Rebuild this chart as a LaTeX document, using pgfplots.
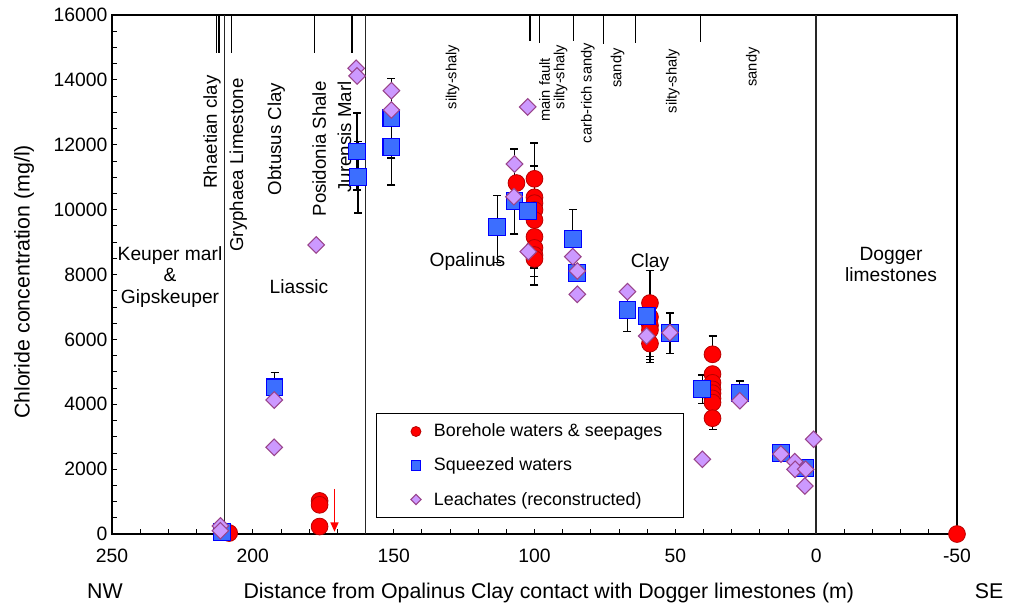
\documentclass[border=0pt]{standalone}
\usepackage{pgfplots}
\pgfplotsset{compat=1.18}
\usepackage{fontspec}
\setmainfont{Liberation Sans}
\usetikzlibrary{arrows.meta}

\definecolor{bhfill}{RGB}{255,0,0}
\definecolor{bhedge}{RGB}{185,0,0}
\definecolor{sqfill}{RGB}{60,110,255}
\definecolor{sqedge}{RGB}{0,0,255}
\definecolor{lcfill}{RGB}{204,153,255}
\definecolor{lcedge}{RGB}{153,68,140}

\newcommand{\flab}{\fontsize{16}{19}\selectfont}
\newcommand{\freg}{\fontsize{14.4}{17}\selectfont}
\newcommand{\frot}{\fontsize{14}{17}\selectfont}
\newcommand{\fsm}{\fontsize{11}{13}\selectfont}

\begin{document}
\begin{tikzpicture}
\useasboundingbox (-84pt,-55.5pt) rectangle (673.5pt,400.5pt);
\begin{axis}[
  at={(0,0)}, anchor=south west,
  width=633.75pt, height=389.25pt, scale only axis,
  x dir=reverse, xmin=-50, xmax=250, ymin=0, ymax=16000,
  xtick={-50,0,...,250}, minor x tick num=4,
  ytick={0,2000,...,16000}, minor y tick num=3,
  scaled y ticks=false, scaled x ticks=false,
  tick align=inside, xtick pos=bottom, ytick pos=left,
  major tick length=4pt, minor tick length=4pt,
  tick style={black, line width=0.6pt},
  axis line style={black, line width=1pt},
  /pgf/number format/assume math mode=true,
  /pgf/number format/set thousands separator={},
  ticklabel style={font=\fontsize{14.5}{16}\selectfont},
  xticklabel style={yshift=-8pt},
  clip=false,
  unbounded coords=jump,
  legend style={at={(0.3124,0.0302)}, anchor=south west, draw=black, line width=1pt,
    fill=white, font=\fontsize{13.4}{15}\selectfont, row sep=10.3pt,
    inner xsep=14pt, inner ysep=6pt},
  legend cell align=left,
  legend image code/.code={%
    \path[draw=none, fill=none] (-15.5pt,0pt) -- (11.5pt,0pt);
    \draw[#1] plot coordinates {(0pt,0pt)};},
]
% stratigraphic boundaries across the whole section
\addplot[forget plot, black!85, line width=1pt] coordinates {(210,0) (210,16000)};
\addplot[forget plot, black!85, line width=1pt] coordinates {(160,0) (160,16000)};
\addplot[forget plot, black!85, line width=1pt] coordinates {(0,0) (0,16000)};
% short marks for facies boundaries along the top
\addplot[forget plot, black, line width=0.8pt] coordinates {
  (212.8,16000) (212.8,14830) (212.8,nan)
  (212.0,16000) (212.0,14830) (212.0,nan)
  (207.7,16000) (207.7,14830) (207.7,nan)
  (178.2,16000) (178.2,14830) (178.2,nan)
  (164.8,16000) (164.8,14830) (164.8,nan)
  (101.6,16000) (101.6,15210) (101.6,nan)
  (98.2,16000) (98.2,15140) (98.2,nan)
  (86.2,16000) (86.2,15210) (86.2,nan)
  (75.6,16000) (75.6,15100) (75.6,nan)
  (64.0,16000) (64.0,15140) (64.0,nan)
  (41.0,16000) (41.0,15170)
};

% borehole waters and seepages
\addplot[only marks, mark=*, mark size=6.3pt,
  mark options={fill=bhfill, draw=bhedge, line width=0.6pt},
  legend image post style={mark size=3.75pt, draw=bhfill, line width=0.4pt},
  error bars/.cd, y dir=both, y explicit,
  error bar style={black, line width=1pt},
  error mark options={rotate=90, mark size=3pt, black, line width=1pt}]
coordinates {
  (208.4,30)
  (176.3,1020) (176.3,900) (176.3,230)
  (106.4,10820)
  (100,10950) += (0,1100) -= (0,0)
  (100,10380) += (0,970) -= (0,0)
  (100,10200) (100,9990) (100,9680) (100,9160)
  (100,8820) += (0,0) -= (0,620)
  (100,8600) += (0,0) -= (0,670)
  (100,8480) += (0,0) -= (0,800)
  (59,7120) += (0,1010) -= (0,0)
  (59,6690)
  (59,6430) += (0,0) -= (0,1150)
  (59,6290) += (0,0) -= (0,920)
  (59,5870) += (0,0) -= (0,400)
  (36.8,5540) += (0,560) -= (0,0)
  (36.8,4930) (36.8,4660) (36.8,4460) (36.8,4340) (36.8,4180) (36.8,4050)
  (36.8,3570) += (0,0) -= (0,340)
  (-50,0)
};
\addlegendentry{Borehole waters \& seepages}

% squeezed waters
\addplot[only marks, mark=square*, mark size=6.3pt,
  mark options={fill=sqfill, draw=sqedge, line width=0.8pt},
  legend image post style={mark size=3.6pt, line width=0.4pt},
  error bars/.cd, y dir=both, y explicit,
  error bar style={black, line width=1pt},
  error mark options={rotate=90, mark size=3pt, black, line width=1pt}]
coordinates {
  (211,60)
  (192.3,4520) += (0,465) -= (0,0)
  (163.0,11790) +- (0,1190)
  (162.7,11000) +- (0,1100)
  (150.8,12820) +- (0,1230)
  (150.8,11940) +- (0,1180)
  (113.2,9474) += (0,960) -= (0,1100)
  (107.1,10276) += (0,1590) -= (0,1030)
  (102.2,9958)
  (86.4,9095) += (0,900) -= (0,0)
  (84.8,8056)
  (67.0,6906) +- (0,670)
  (60.2,6721)
  (51.9,6188) +- (0,630)
  (40.4,4461) += (0,440) -= (0,430)
  (27.1,4338) += (0,380) -= (0,0)
  (12.5,2507)
  (4.0,2044)
};
\addlegendentry{Squeezed waters}

% leachates
\addplot[only marks, mark=square*, mark size=4.4pt,
  mark options={rotate=45, fill=lcfill, draw=lcedge, line width=0.8pt},
  legend image post style={mark size=2.7pt, line width=0.4pt}]
coordinates {
  (211.5,250) (211.5,100)
  (192.4,4131) (192.4,2673)
  (177.5,8910)
  (163.3,14357) (163.0,14120)
  (150.8,13667) (150.8,13072)
  (107.1,11407) (107.3,10400)
  (102.2,8703) (102.4,13165)
  (86.4,8550) (84.8,8108) (84.8,7390)
  (67.0,7470) (60.2,6104) (51.9,6206)
  (27.1,4110) (40.4,2303)
  (12.5,2466) (7.6,2230) (7.5,1995) (3.7,1995) (4.0,1480) (0.9,2920)
};
\addlegendentry{Leachates (reconstructed)}

% upper limit arrow
\addplot[forget plot, red, line width=0.9pt, -{Triangle[length=7pt,width=6pt]}]
  coordinates {(171,1390) (171,70)};

% formation names
\node[rotate=90, font=\frot] at (axis cs:214.45,12394) {Rhaetian clay};
\node[rotate=90, font=\frot] at (axis cs:205.2,11376) {Gryphaea Limestone};
\node[rotate=90, font=\frot] at (axis cs:191.7,12178) {Obtusus Clay};
\node[rotate=90, font=\frot] at (axis cs:176.4,11870) {Posidonia Shale};
\node[rotate=90, font=\frot] at (axis cs:167.5,12240) {Jurensis Marl};

\node[anchor=base, font=\freg] at (axis cs:229.4,8447) {Keuper marl};
\node[anchor=base, font=\freg] at (axis cs:229.4,7770) {\&};
\node[anchor=base, font=\freg] at (axis cs:229.4,7093) {Gipskeuper};
\node[anchor=base, font=\freg] at (axis cs:183.6,7420) {Liassic};
\node[anchor=base, font=\freg] at (axis cs:123.8,8240) {Opalinus};
\node[anchor=base, font=\freg] at (axis cs:59.0,8230) {Clay};
\node[anchor=base, font=\freg] at (axis cs:-26.6,8447) {Dogger};
\node[anchor=base, font=\freg] at (axis cs:-26.6,7770) {limestones};

% facies within the Opalinus Clay
\node[rotate=90, font=\fsm] at (axis cs:129.1,14089) {silty-shaly};
\node[rotate=90, font=\fsm] at (axis cs:96.4,13689) {main fault};
\node[rotate=90, font=\fsm] at (axis cs:90.7,14089) {silty-shaly};
\node[rotate=90, font=\fsm] at (axis cs:81.1,13596) {carb-rich sandy};
\node[rotate=90, font=\fsm] at (axis cs:70.5,14367) {sandy};
\node[rotate=90, font=\fsm] at (axis cs:50.9,13966) {silty-shaly};
\node[rotate=90, font=\fsm] at (axis cs:22.5,14397) {sandy};

% axis titles
\node[rotate=90, font=\flab] at (axis description cs:-0.104,0.4855) {Chloride concentration (mg/l)};
\node[anchor=base, font=\flab] at (axis description cs:0.517,-0.1233) {Distance from Opalinus Clay contact with Dogger limestones (m)};
\node[anchor=base, font=\flab] at (axis description cs:-0.0083,-0.1233) {NW};
\node[anchor=base, font=\flab] at (axis description cs:1.0379,-0.1233) {SE};
\end{axis}
\end{tikzpicture}
\end{document}
